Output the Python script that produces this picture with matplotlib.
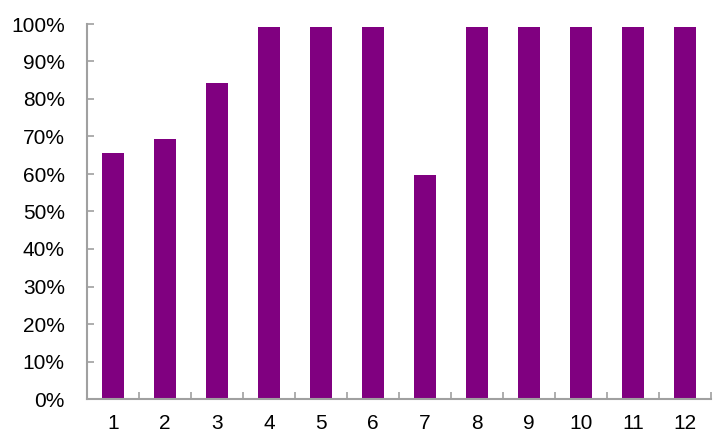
import matplotlib.pyplot as plt
from matplotlib.ticker import FixedLocator, PercentFormatter

categories = ['1', '2', '3', '4', '5', '6', '7', '8', '9', '10', '11', '12']
values = [65.5, 69.2, 84.2, 99.1, 99.1, 99.1, 59.6, 99.1, 99.1, 99.1, 99.1, 99.1]

plt.rcParams['font.family'] = ['Liberation Sans', 'DejaVu Sans']

fig = plt.figure(figsize=(7.26, 4.44), dpi=100)
ax = fig.add_axes([87 / 726, 1 - 399 / 444, (711 - 87) / 726, (399 - 24) / 444])

x = list(range(1, len(categories) + 1))
ax.bar(x, values, width=0.42, color='#800080')

ax.set_xlim(0.5, 12.5)
ax.set_ylim(0, 100)
ax.set_yticks(range(0, 101, 10))
ax.yaxis.set_major_formatter(PercentFormatter(decimals=0))
ax.set_xticks(x)
ax.set_xticklabels(categories)
ax.xaxis.set_minor_locator(FixedLocator([i + 0.5 for i in range(0, 13)]))

for s in ['top', 'right']:
    ax.spines[s].set_visible(False)
for s in ['left', 'bottom']:
    ax.spines[s].set_color('#a0a0a0')
    ax.spines[s].set_linewidth(1.5)

ax.tick_params(axis='y', direction='in', length=5, width=1.2, color='#a0a0a0',
               labelsize=15, pad=16)
ax.tick_params(axis='x', which='major', length=0, labelsize=15, pad=11)
ax.tick_params(axis='x', which='minor', direction='in', length=5, width=1.2, color='#a0a0a0')

fig.savefig('out.png', dpi=100)
